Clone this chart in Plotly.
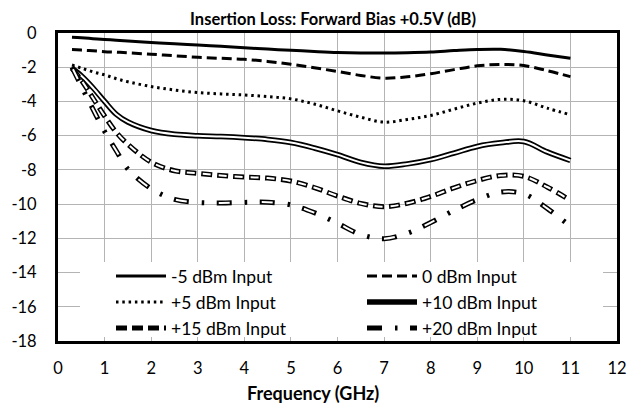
import plotly.graph_objects as go

freq = [0.3, 0.5, 0.75, 1, 1.25, 1.5, 2, 2.5, 3, 3.5, 4, 4.5, 5, 5.5, 6, 6.5, 7, 7.5, 8, 8.5, 9, 9.5, 10, 10.5, 11]

m5 = [-0.25, -0.28, -0.33, -0.38, -0.42, -0.47, -0.56, -0.63, -0.70, -0.78, -0.86, -0.94, -1.01, -1.08, -1.14, -1.17, -1.17, -1.15, -1.11, -1.03, -0.96, -0.95, -1.08, -1.28, -1.48]
p0 = [-0.97, -1.00, -1.04, -1.09, -1.12, -1.16, -1.24, -1.33, -1.42, -1.48, -1.54, -1.66, -1.83, -2.03, -2.25, -2.48, -2.64, -2.56, -2.38, -2.14, -1.92, -1.84, -1.90, -2.20, -2.55]
p5 = [-1.87, -2.05, -2.27, -2.45, -2.67, -2.85, -3.13, -3.33, -3.48, -3.56, -3.62, -3.72, -3.85, -4.15, -4.55, -4.92, -5.21, -5.05, -4.82, -4.45, -4.10, -3.88, -3.96, -4.39, -4.78]
p10 = [-2.06, -2.50, -3.20, -4.00, -4.75, -5.20, -5.70, -5.92, -6.00, -6.05, -6.12, -6.22, -6.40, -6.72, -7.11, -7.56, -7.79, -7.65, -7.40, -7.02, -6.63, -6.42, -6.34, -6.95, -7.45]
p15 = [-2.05, -2.75, -3.80, -4.85, -5.80, -6.50, -7.55, -8.05, -8.20, -8.33, -8.42, -8.48, -8.65, -9.03, -9.53, -9.96, -10.15, -9.95, -9.55, -9.05, -8.62, -8.33, -8.38, -9.00, -9.78]
p20 = [-2.00, -3.10, -4.45, -5.75, -6.88, -7.95, -9.10, -9.72, -9.90, -9.93, -9.90, -9.89, -10.05, -10.50, -11.12, -11.78, -12.02, -11.70, -11.08, -10.37, -9.74, -9.30, -9.40, -10.25, -11.30]

names = ["-5 dBm Input", "0 dBm Input", "+5 dBm Input", "+10 dBm Input", "+15 dBm Input", "+20 dBm Input"]
legend_rows = ["legend", "legend", "legend2", "legend2", "legend3", "legend3"]

x_ticks = list(range(0, 13))
y_ticks = list(range(-18, 1, 2))

FONT = "Lato"
# page body has an 8px margin: figure is drawn 8px right/down of the window origin
OFF = 8
W, H = 644 - OFF, 418 - OFF
# plot area in window pixels: x 58..617, y 33..341
L, T = 58 - OFF, 33 - OFF
R, B = W - (617 - OFF), H - (341 - OFF)
PW, PH = W - L - R, H - T - B


def px_x(p):
    return (p - OFF - L) / PW


def px_y(p):
    return (H - B - (p - OFF)) / PH


fig = go.Figure()


def add(i, y, width, dash, inner=None, inner_dash=None):
    fig.add_trace(go.Scatter(x=freq, y=y, name=names[i], mode="lines", legend=legend_rows[i],
                             line=dict(color="black", width=width, dash=dash, shape="spline"),
                             showlegend=True, hoverinfo="skip"))
    if inner is not None:
        fig.add_trace(go.Scatter(x=freq, y=y, name=names[i], mode="lines", legend=legend_rows[i],
                                 line=dict(color="white", width=inner, dash=inner_dash, shape="spline"),
                                 showlegend=False, hoverinfo="skip"))


add(0, m5, 3, "solid")
add(1, p0, 3, "10px,5px")
add(2, p5, 3, "2.5px,3.8px")
add(3, p10, 5.5, "solid", 2, "solid")
add(4, p15, 5, "11px,5px", 2, "0px,1.5px,8px,6.5px")
add(5, p20, 5, "15px,13px,2.5px,12.5px", 2, "0px,2px,11px,30px")

leg_common = dict(orientation="h", x=px_x(111), xanchor="left", yanchor="middle",
                  bgcolor="rgba(0,0,0,0)", borderwidth=0, entrywidth=186, entrywidthmode="pixels",
                  itemwidth=50, font=dict(family=FONT, size=17.5, color="black"),
                  traceorder="normal")

fig.update_layout(
    width=W, height=H,
    margin=dict(l=L, r=R, t=T, b=B, autoexpand=False),
    paper_bgcolor="white", plot_bgcolor="white",
    font=dict(family=FONT, size=16, color="black"),
    title=dict(text="<b>Insertion Loss: Forward Bias +0.5V (dB)</b>",
               x=(333 - OFF) / W, xref="container", xanchor="center",
               y=1 - (19 - OFF) / H, yref="container", yanchor="middle", automargin=False,
               font=dict(family=FONT, size=16.5, color="black")),
    showlegend=True,
    legend=dict(leg_common, y=px_y(276)),
    legend2=dict(leg_common, y=px_y(302)),
    legend3=dict(leg_common, y=px_y(328)),
    shapes=[dict(type="rect", xref="paper", yref="paper",
                 x0=px_x(80), x1=px_x(603), y0=px_y(337), y1=px_y(262),
                 fillcolor="white", line=dict(width=0), layer="above")],
    annotations=[dict(text="<b>Frequency (GHz)</b>", xref="paper", yref="paper",
                      x=px_x(313), y=px_y(393), xanchor="center", yanchor="middle",
                      showarrow=False, font=dict(family=FONT, size=18, color="black"))],
)

fig.update_xaxes(range=[0, 12], tickvals=x_ticks, ticktext=[str(v) for v in x_ticks],
                 showgrid=True, gridcolor="#b4b4b4", gridwidth=1, automargin=False,
                 showline=True, mirror=True, linecolor="black", linewidth=3,
                 zeroline=False, ticks="", ticklabelstandoff=10,
                 tickfont=dict(family=FONT, size=16.5))
fig.update_yaxes(range=[-18, 0], tickvals=y_ticks, ticktext=[str(v) for v in y_ticks],
                 showgrid=True, gridcolor="#b4b4b4", gridwidth=1, automargin=False,
                 showline=True, mirror=True, linecolor="black", linewidth=3,
                 zeroline=False, ticks="", ticklabelstandoff=15,
                 tickfont=dict(family=FONT, size=16.5))

fig.write_html("out.html")
